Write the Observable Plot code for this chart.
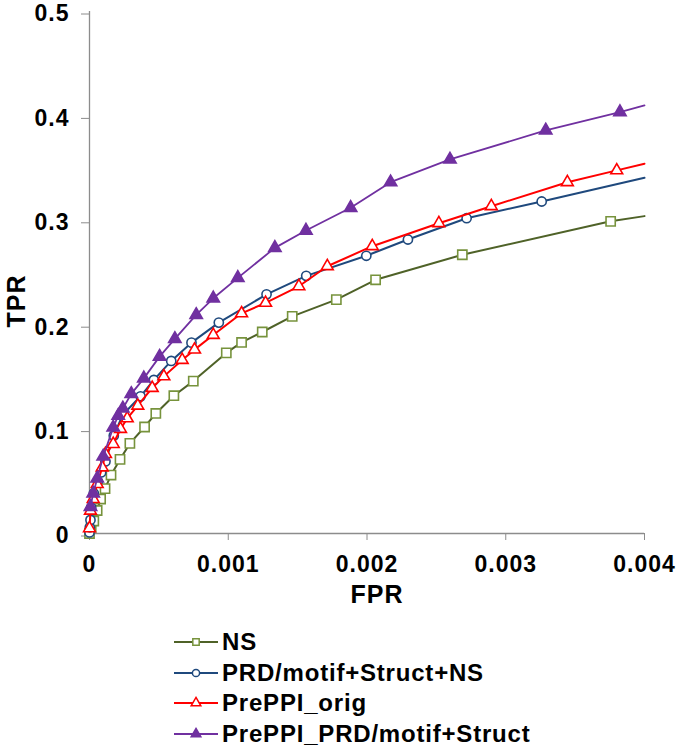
<!DOCTYPE html>
<html>
<head>
<meta charset="utf-8">
<script src="https://cdn.jsdelivr.net/npm/d3@7"></script>
<script src="https://cdn.jsdelivr.net/npm/@observablehq/plot@0.6"></script>
<style>
  body { margin: 0; background: white; font-family: "Liberation Sans", Arial, sans-serif; }
  #chart text { letter-spacing: 1px; }
  #legend { padding: 17px 0 0 174px; }
  .row { display: flex; align-items: center; height: 30.5px; font-weight: bold; font-size: 24px; letter-spacing: 0.8px; color: #000; }
  .row svg { margin-right: 4px; }
</style>
</head>
<body>
<div id="chart"></div>
<div id="legend"></div>
<script>
// ---- data ----
const seriesNames = ["NS", "PRD/motif+Struct+NS", "PrePPI_orig", "PrePPI_PRD/motif+Struct"];

const nsFPR = [0, 0.000012, 0.000031, 0.000055, 0.00008, 0.000112, 0.000155, 0.00022, 0.000291, 0.000397, 0.000478, 0.000608, 0.000748, 0.000986, 0.001096, 0.001245, 0.001461, 0.001779, 0.002062, 0.002687, 0.003756];
const nsTPR = [0, 0.006, 0.012, 0.022, 0.033, 0.043, 0.056, 0.071, 0.0863, 0.102, 0.115, 0.132, 0.146, 0.173, 0.183, 0.193, 0.208, 0.224, 0.243, 0.267, 0.299];
const nsEdgeTPR = 0.304;

const prdFPR = [0, 0.000002, 0.000007, 0.000012, 0.000031, 0.00006, 0.000084, 0.000115, 0.000175, 0.00024, 0.000368, 0.000464, 0.000589, 0.000735, 0.000932, 0.001276, 0.001562, 0.001995, 0.002295, 0.002718, 0.003259];
const prdTPR = [0.001, 0.006, 0.013, 0.025, 0.0384, 0.05, 0.0585, 0.069, 0.0937, 0.1138, 0.1314, 0.1471, 0.1653, 0.1828, 0.202, 0.2291, 0.2468, 0.266, 0.2816, 0.302, 0.318];
const prdEdgeTPR = 0.3407;

const origFPR = [0, 0.0000072, 0.0000267, 0.0000555, 0.0000916, 0.000115, 0.000171, 0.0002235, 0.000272, 0.000348, 0.000452, 0.000536, 0.000668, 0.000757, 0.000892, 0.001096, 0.001269, 0.001509, 0.001714, 0.002038, 0.002518, 0.002896, 0.003444, 0.0038];
const origTPR = [0.005, 0.0218, 0.033, 0.0474, 0.0633, 0.0761, 0.0857, 0.1001, 0.1103, 0.1224, 0.1394, 0.1505, 0.1662, 0.1761, 0.1902, 0.2109, 0.2209, 0.2368, 0.256, 0.2752, 0.2972, 0.3135, 0.3365, 0.3478];
const origEdgeTPR = 0.3542;

const motifFPR = [0.0000072, 0.0000267, 0.0000555, 0.0000988, 0.000171, 0.000207, 0.00024, 0.000301, 0.0003915, 0.000505, 0.000615, 0.000769, 0.000892, 0.001069, 0.001336, 0.00156, 0.001882, 0.00217, 0.002598, 0.003288, 0.003823];
const motifTPR = [0.0256, 0.0384, 0.0527, 0.0738, 0.1016, 0.1128, 0.1198, 0.1337, 0.1486, 0.1694, 0.1864, 0.2094, 0.2253, 0.2449, 0.2736, 0.2902, 0.312, 0.3365, 0.3583, 0.3861, 0.4037];
const motifEdgeTPR = 0.410;

const edgeFPR = 0.004;
const xTicks = [0, 0.001, 0.002, 0.003, 0.004];
const yTicks = [0, 0.1, 0.2, 0.3, 0.4, 0.5];
const xTitle = "FPR";
const yTitle = "TPR";

// ---- styles ----
const styles = [
  {line: "#4f6228", mark: "#77933c", symbol: "square", fill: "white", r: 5.2},
  {line: "#1f497d", mark: "#1f497d", symbol: "circle", fill: "white", r: 4.6},
  {line: "#ff0000", mark: "#ff0000", symbol: "triangle", fill: "white", r: 4.4},
  {line: "#7030a0", mark: "#7030a0", symbol: "triangle", fill: "#7030a0", r: 4.6}
];

const pts = (fx, ty) => fx.map((x, i) => ({x, y: ty[i]}));
const seriesPts = [pts(nsFPR, nsTPR), pts(prdFPR, prdTPR), pts(origFPR, origTPR), pts(motifFPR, motifTPR)];
const edges = [nsEdgeTPR, prdEdgeTPR, origEdgeTPR, motifEdgeTPR];

const font = "'Liberation Sans', Arial, sans-serif";
const marks = [
  Plot.ruleX([0], {y1: 0, y2: 0.5, stroke: "#8c8c8c", strokeWidth: 1.3}),
  Plot.ruleY([0], {x1: 0, x2: 0.004, stroke: "#8c8c8c", strokeWidth: 1.3}),
  Plot.axisY({ticks: yTicks, tickSize: 8, tickPadding: 12, stroke: "#8c8c8c", fill: "black",
    fontSize: 23, fontWeight: "bold", fontFamily: font, dy: 2.5,
    tickFormat: d => String(d), label: null}),
  Plot.axisX({ticks: xTicks, tickSize: 7, tickPadding: 15, stroke: "#8c8c8c", fill: "black",
    fontSize: 23, fontWeight: "bold", fontFamily: font,
    tickFormat: d => String(d), label: null}),
  Plot.text([yTitle], {frameAnchor: "left", dx: -73, dy: 55, rotate: -90, text: d => d,
    fontSize: 25, fontWeight: "bold", fontFamily: font, fill: "black", lineAnchor: "middle"}),
  Plot.text([xTitle], {frameAnchor: "bottom", dx: 10, dy: 61, text: d => d,
    fontSize: 25, fontWeight: "bold", fontFamily: font, fill: "black", lineAnchor: "middle"})
];
seriesPts.forEach((p, i) => {
  const s = styles[i];
  marks.push(Plot.line([...p, {x: edgeFPR, y: edges[i]}], {x: "x", y: "y", stroke: s.line, strokeWidth: i === 3 ? 1.8 : 2}));
  marks.push(Plot.dot(p, {x: "x", y: "y", symbol: s.symbol, r: s.r, stroke: s.mark, fill: s.fill, strokeWidth: 1.6}));
});

const chart = Plot.plot({
  width: 676,
  height: 610,
  marginLeft: 89,
  marginRight: 32,
  marginTop: 11,
  marginBottom: 77,
  x: {domain: [0, 0.004]},
  y: {domain: [0, 0.5]},
  style: {fontFamily: font, fontWeight: "bold", color: "black"},
  marks
});
document.getElementById("chart").appendChild(chart);

// ---- legend ----
const legend = d3.select("#legend");
seriesNames.forEach((name, i) => {
  const s = styles[i];
  const row = legend.append("div").attr("class", "row");
  const svg = row.append("svg").attr("width", 44).attr("height", 20);
  svg.append("line").attr("x1", 0).attr("x2", 44).attr("y1", 10).attr("y2", 10)
    .attr("stroke", s.line).attr("stroke-width", 2);
  const sym = {square: d3.symbolSquare, circle: d3.symbolCircle, triangle: d3.symbolTriangle}[s.symbol];
  svg.append("path").attr("transform", "translate(22,10)")
    .attr("d", d3.symbol(sym, Math.PI * 3.6 * 3.6)())
    .attr("stroke", s.mark).attr("fill", s.fill).attr("stroke-width", 1.5);
  row.append("span").text(name);
});
</script>
</body>
</html>
